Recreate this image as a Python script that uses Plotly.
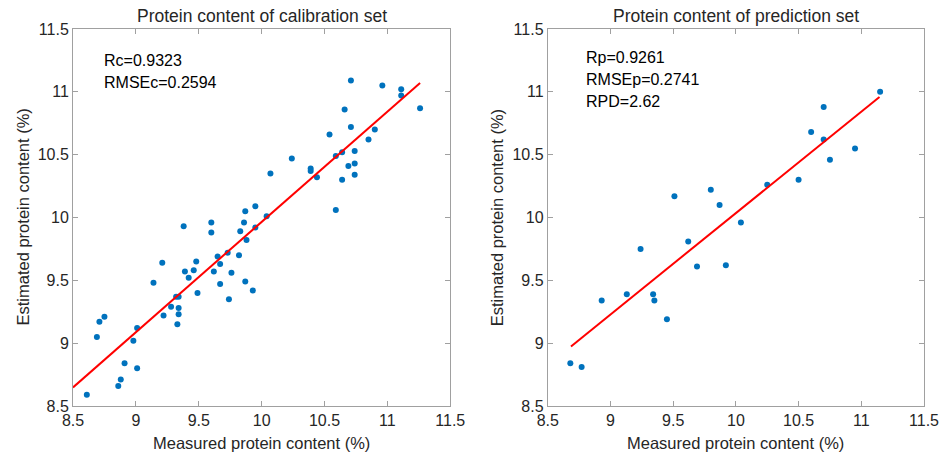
import plotly.graph_objects as go

# Calibration set
cal_measured = [8.61, 8.69, 8.71, 8.75, 8.86, 8.88, 8.91, 8.98, 9.01, 9.01, 9.14, 9.21, 9.22, 9.28,
                9.32, 9.34, 9.34, 9.34, 9.33, 9.39, 9.42, 9.46, 9.48, 9.49, 9.62, 9.65, 9.67, 9.67,
                9.73, 9.76, 9.74, 9.82, 9.87, 9.93, 9.38, 9.60, 9.60, 9.83, 9.86, 9.87, 9.88, 9.95,
                9.95, 10.04, 10.07, 10.24, 10.39, 10.39, 10.44, 10.54, 10.59, 10.59, 10.64, 10.64,
                10.69, 10.74, 10.74, 10.74, 10.85, 10.90, 10.71, 10.96, 11.11, 11.11, 11.26, 10.66,
                10.71]
cal_estimated = [8.59, 9.05, 9.17, 9.21, 8.66, 8.71, 8.84, 9.02, 9.12, 8.80, 9.48, 9.64, 9.22, 9.29,
                 9.37, 9.37, 9.28, 9.23, 9.15, 9.57, 9.52, 9.58, 9.65, 9.40, 9.57, 9.69, 9.63, 9.47,
                 9.72, 9.56, 9.35, 9.70, 9.49, 9.42, 9.93, 9.96, 9.88, 9.89, 9.96, 10.05, 9.82, 9.92,
                 10.09, 10.01, 10.35, 10.47, 10.39, 10.37, 10.32, 10.66, 10.49, 10.06, 10.52, 10.30,
                 10.41, 10.53, 10.43, 10.34, 10.62, 10.70, 11.09, 11.05, 11.02, 10.97, 10.87, 10.86,
                 10.72]
cal_fit_x = [8.5, 11.26]
cal_fit_slope = 0.878
cal_fit_intercept = 8.648 - 0.878 * 8.5

# Prediction set
pred_measured = [8.68, 8.77, 8.93, 9.13, 9.34, 9.35, 9.45, 9.69, 9.92, 9.24, 9.51, 9.62, 9.80, 9.87,
                 10.04, 10.25, 10.50, 10.60, 10.70, 10.75, 10.95, 10.70, 11.15]
pred_estimated = [8.84, 8.81, 9.34, 9.39, 9.39, 9.34, 9.19, 9.61, 9.62, 9.75, 10.17, 9.81, 10.22, 10.10,
                  9.96, 10.26, 10.30, 10.68, 10.62, 10.46, 10.55, 10.88, 11.00]
pred_fit_x = [8.685, 11.145]
pred_fit_slope = 0.807
pred_fit_intercept = 8.974 - 0.807 * 8.685

ticks = [8.5, 9, 9.5, 10, 10.5, 11, 11.5]
tick_labels = ["8.5", "9", "9.5", "10", "10.5", "11", "11.5"]

titles = ["Protein content of calibration set", "Protein content of prediction set"]
x_title = "Measured protein content (%)"
y_title = "Estimated protein content (%)"
cal_stats = ["Rc=0.9323", "RMSEc=0.2594"]
pred_stats = ["Rp=0.9261", "RMSEp=0.2741", "RPD=2.62"]

FONT = "Liberation Sans, Arial, sans-serif"
TXT = "#262626"
BLUE = "#0072BD"

fig = go.Figure()
fig.add_trace(go.Scatter(x=cal_measured, y=cal_estimated, mode="markers",
                         marker=dict(color=BLUE, size=6), xaxis="x", yaxis="y", showlegend=False))
fig.add_trace(go.Scatter(x=cal_fit_x, y=[cal_fit_intercept + cal_fit_slope * v for v in cal_fit_x],
                         mode="lines", line=dict(color="red", width=2), xaxis="x", yaxis="y",
                         showlegend=False))
fig.add_trace(go.Scatter(x=pred_measured, y=pred_estimated, mode="markers",
                         marker=dict(color=BLUE, size=6), xaxis="x2", yaxis="y2", showlegend=False))
fig.add_trace(go.Scatter(x=pred_fit_x, y=[pred_fit_intercept + pred_fit_slope * v for v in pred_fit_x],
                         mode="lines", line=dict(color="red", width=2), xaxis="x2", yaxis="y2",
                         showlegend=False))

axis_common = dict(range=[8.5, 11.5], tickvals=ticks, ticktext=tick_labels, ticks="inside",
                   ticklen=5, tickcolor="#a0a0a0", showline=True, linecolor="#a0a0a0", linewidth=1,
                   mirror="ticks", showgrid=False, zeroline=False,
                   tickfont=dict(family=FONT, size=16, color=TXT))

L0, L1, R0, R1 = 0.0, 0.4433, 0.5579, 1.0
fig.update_layout(
    width=951, height=458,
    margin=dict(l=73, r=23, t=29, b=52),
    paper_bgcolor="white", plot_bgcolor="white",
    font=dict(family=FONT, color=TXT),
    xaxis=dict(domain=[L0, L1], anchor="y", **axis_common),
    yaxis=dict(domain=[0, 1], anchor="x", **axis_common),
    xaxis2=dict(domain=[R0, R1], anchor="y2", **axis_common),
    yaxis2=dict(domain=[0, 1], anchor="x2", **axis_common),
)

ann = []
for i, (a, b) in enumerate([(L0, L1), (R0, R1)]):
    ann.append(dict(text=titles[i], xref="paper", yref="paper", x=(a + b) / 2, y=1,
                    xanchor="center", yanchor="bottom", yshift=1, showarrow=False,
                    font=dict(size=17.5, color=TXT)))
    ann.append(dict(text=x_title, xref="paper", yref="paper", x=(a + b) / 2, y=0,
                    xanchor="center", yanchor="top", yshift=-26, showarrow=False,
                    font=dict(size=16.5, color=TXT)))
    ann.append(dict(text=y_title, xref="paper", yref="paper", x=a, y=0.5, textangle=-90,
                    xanchor="center", yanchor="middle", xshift=-51, showarrow=False,
                    font=dict(size=16.5, color=TXT)))

for j, s in enumerate(cal_stats):
    ann.append(dict(text=s, xref="paper", yref="paper", x=L0, y=1, xanchor="left", yanchor="middle",
                    xshift=29, yshift=-31 - 22 * j, showarrow=False, font=dict(size=16, color="black")))
for j, s in enumerate(pred_stats):
    ann.append(dict(text=s, xref="paper", yref="paper", x=R0, y=1, xanchor="left", yanchor="middle",
                    xshift=36, yshift=-28 - 22 * j, showarrow=False, font=dict(size=16, color="black")))

fig.update_layout(annotations=ann)
fig.write_html("out.html", config={"displayModeBar": False},
               post_script="document.body.style.margin='0px';")
